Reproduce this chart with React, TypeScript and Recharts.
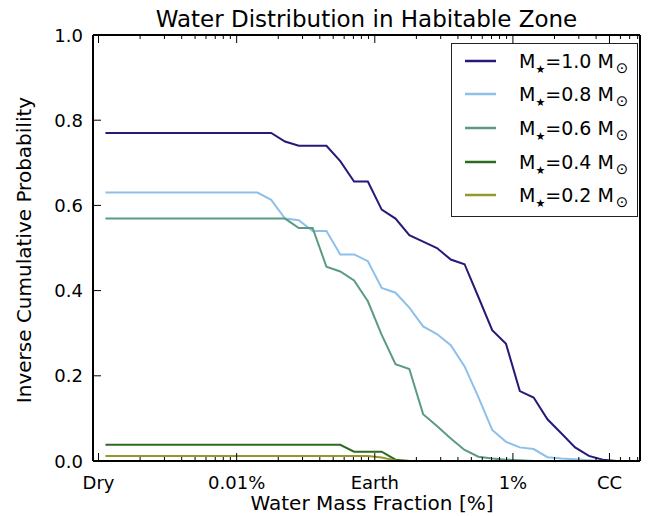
import { LineChart, Line, XAxis, YAxis, Legend, Label } from 'recharts';

// x positions are log10 of the water mass fraction in percent
const logWmf = [
  -2.95, -2.85, -2.75, -2.65, -2.55, -2.45, -2.35, -2.25, -2.15, -2.05,
  -1.95, -1.85, -1.75, -1.65, -1.55, -1.45, -1.35, -1.25, -1.15, -1.05,
  -0.95, -0.85, -0.75, -0.65, -0.55, -0.45, -0.35, -0.25, -0.15, -0.05,
  0.05, 0.15, 0.25, 0.35, 0.45, 0.55, 0.65, 0.75, 0.85, 0.95,
];

const m10 = [
  0.77, 0.77, 0.77, 0.77, 0.77, 0.77, 0.77, 0.77, 0.77, 0.77,
  0.77, 0.77, 0.77, 0.75, 0.74, 0.74, 0.74, 0.704, 0.656, 0.656,
  0.59, 0.569, 0.53, 0.515, 0.5, 0.473, 0.462, 0.385, 0.307, 0.275,
  0.164, 0.149, 0.098, 0.065, 0.032, 0.012, 0.003, 0, 0, 0,
];
const m08 = [
  0.63, 0.63, 0.63, 0.63, 0.63, 0.63, 0.63, 0.63, 0.63, 0.63,
  0.63, 0.63, 0.613, 0.569, 0.565, 0.54, 0.54, 0.485, 0.485, 0.469,
  0.406, 0.395, 0.36, 0.316, 0.298, 0.272, 0.222, 0.15, 0.073, 0.045,
  0.032, 0.028, 0.009, 0.006, 0.004, 0.002, 0, 0, 0, 0,
];
const m06 = [
  0.569, 0.569, 0.569, 0.569, 0.569, 0.569, 0.569, 0.569, 0.569, 0.569,
  0.569, 0.569, 0.569, 0.569, 0.547, 0.547, 0.456, 0.445, 0.424, 0.375,
  0.296, 0.227, 0.216, 0.11, 0.082, 0.053, 0.026, 0.01, 0.006, 0.003,
  0.002, 0, 0, 0, 0, 0, 0, 0, 0, 0,
];
const m04 = [
  0.038, 0.038, 0.038, 0.038, 0.038, 0.038, 0.038, 0.038, 0.038, 0.038,
  0.038, 0.038, 0.038, 0.038, 0.038, 0.038, 0.038, 0.038, 0.022, 0.022,
  0.022, 0.003, 0, 0, 0, 0, 0, 0, 0, 0,
  0, 0, 0, 0, 0, 0, 0, 0, 0, 0,
];
const m02 = [
  0.012, 0.012, 0.012, 0.012, 0.012, 0.012, 0.012, 0.012, 0.012, 0.012,
  0.012, 0.012, 0.012, 0.012, 0.012, 0.012, 0.012, 0.012, 0.012, 0.012,
  0.008, 0.001, 0, 0, 0, 0, 0, 0, 0, 0,
  0, 0, 0, 0, 0, 0, 0, 0, 0, 0,
];

const starMasses = ['1.0', '0.8', '0.6', '0.4', '0.2'];
const seriesKeys = ['m10', 'm08', 'm06', 'm04', 'm02'];
const seriesColors = ['#241a78', '#8ec0ea', '#5c9b80', '#2e6a22', '#939a2c'];

const xMajorTicks = [-3, -2, -1, 0, 0.699];
const xMajorLabels = ['Dry', '0.01%', 'Earth', '1%', 'CC'];
const yTicks = [0, 0.2, 0.4, 0.6, 0.8, 1.0];
const yTickLabels = ['0.0', '0.2', '0.4', '0.6', '0.8', '1.0'];

const X_DOMAIN: [number, number] = [-3.04, 0.92];
const FONT = 'DejaVu Sans';

// log minor ticks (2..9 in each decade), skipping ones that sit on a major tick
const xMinorTicks: number[] = [];
[-3, -2, -1, 0].forEach((d) => {
  for (let k = 2; k <= 9; k++) {
    const v = d + Math.log10(k);
    if (v > X_DOMAIN[1]) continue;
    if (xMajorTicks.some((t) => Math.abs(t - v) < 0.002)) continue;
    xMinorTicks.push(v);
  }
});
const xAllTicks = [...xMajorTicks, ...xMinorTicks].sort((a, b) => a - b);

const data = logWmf.map((x, i) => ({
  x,
  m10: m10[i],
  m08: m08[i],
  m06: m06[i],
  m04: m04[i],
  m02: m02[i],
}));

const majorIndex = (v: number) => xMajorTicks.findIndex((t) => Math.abs(t - v) < 1e-6);

function BottomTick({ x, y, payload }: any) {
  const i = majorIndex(payload.value);
  const len = i >= 0 ? 8 : 4;
  return (
    <g>
      <line x1={x} x2={x} y1={y} y2={y - len} stroke="#000" strokeWidth={1} />
      {i >= 0 && (
        <text x={x} y={y + 28} textAnchor="middle" fontSize={18} fontFamily={FONT} fill="#000">
          {xMajorLabels[i]}
        </text>
      )}
    </g>
  );
}

function TopTick({ x, y, payload }: any) {
  const len = majorIndex(payload.value) >= 0 ? 8 : 4;
  return <line x1={x} x2={x} y1={y} y2={y + len} stroke="#000" strokeWidth={1} />;
}

function LeftTick({ x, y, payload, index }: any) {
  return (
    <g>
      <line x1={x} x2={x + 8} y1={y} y2={y} stroke="#000" strokeWidth={1} />
      <text x={x - 10} y={y} textAnchor="end" dominantBaseline="central" fontSize={18} fontFamily={FONT} fill="#000">
        {yTickLabels[index] ?? payload.value}
      </text>
    </g>
  );
}

function RightTick({ x, y }: any) {
  return <line x1={x} x2={x - 8} y1={y} y2={y} stroke="#000" strokeWidth={1} />;
}

function LegendBox() {
  return (
    <div
      style={{
        boxSizing: 'border-box',
        width: 187,
        height: 174,
        border: '1px solid #222',
        background: '#fff',
        fontFamily: FONT,
        color: '#000',
      }}
    >
      {starMasses.map((m, i) => (
        <div key={m} style={{ height: 33.6, display: 'flex', alignItems: 'center' }}>
          <svg width={31} height={4} style={{ marginLeft: 13 }}>
            <line x1={0} x2={31} y1={2} y2={2} stroke={seriesColors[i]} strokeWidth={2.5} />
          </svg>
          <span style={{ marginLeft: 23, fontSize: 19, whiteSpace: 'nowrap' }}>
            M<span style={{ fontSize: 11, position: 'relative', top: 5 }}>★</span>={m} M
            <span style={{ fontSize: 15, position: 'relative', top: 5, marginLeft: 2 }}>⊙</span>
          </span>
        </div>
      ))}
    </div>
  );
}

export default function App() {
  return (
    <div style={{ position: 'absolute', left: 0, top: 0, width: 665, height: 516, background: '#fff' }}>
      <LineChart
        width={665}
        height={516}
        data={data}
        margin={{ top: 34, right: 24, bottom: 0, left: 0 }}
        style={{ fontFamily: FONT }}
      >
        <XAxis
          xAxisId="bottom"
          dataKey="x"
          type="number"
          domain={X_DOMAIN}
          allowDataOverflow
          ticks={xAllTicks}
          interval={0}
          height={55}
          tickSize={0}
          tickMargin={0}
          tickLine={false}
          axisLine={{ stroke: '#000', strokeWidth: 2 }}
          tick={(p: any) => <BottomTick {...p} />}
        >
          <Label
            content={() => (
              <text x={372} y={510} textAnchor="middle" fontSize={20} fontFamily={FONT} fill="#000">
                Water Mass Fraction [%]
              </text>
            )}
          />
        </XAxis>
        <XAxis
          xAxisId="top"
          orientation="top"
          dataKey="x"
          type="number"
          domain={X_DOMAIN}
          allowDataOverflow
          ticks={xAllTicks}
          interval={0}
          height={1}
          tickSize={0}
          tickMargin={0}
          tickLine={false}
          axisLine={{ stroke: '#000', strokeWidth: 2 }}
          tick={(p: any) => <TopTick {...p} />}
        >
          <Label
            content={() => (
              <text x={366.5} y={27} textAnchor="middle" fontSize={23} fontFamily={FONT} fill="#000">
                Water Distribution in Habitable Zone
              </text>
            )}
          />
        </XAxis>
        <YAxis
          yAxisId="left"
          type="number"
          domain={[0, 1]}
          ticks={yTicks}
          interval={0}
          width={93}
          tickSize={0}
          tickMargin={0}
          tickLine={false}
          axisLine={{ stroke: '#000', strokeWidth: 2 }}
          tick={(p: any) => <LeftTick {...p} />}
        >
          <Label
            content={() => (
              <text
                x={24}
                y={250}
                transform="rotate(-90, 24, 250)"
                textAnchor="middle"
                dominantBaseline="central"
                fontSize={20}
                fontFamily={FONT}
                fill="#000"
              >
                Inverse Cumulative Probability
              </text>
            )}
          />
        </YAxis>
        <YAxis
          yAxisId="right"
          orientation="right"
          type="number"
          domain={[0, 1]}
          ticks={yTicks}
          interval={0}
          width={1}
          tickSize={0}
          tickMargin={0}
          tickLine={false}
          axisLine={{ stroke: '#000', strokeWidth: 2 }}
          tick={(p: any) => <RightTick {...p} />}
        />
        {seriesKeys.map((k, i) => (
          <Line
            key={k}
            xAxisId="bottom"
            yAxisId="left"
            dataKey={k}
            type="linear"
            stroke={seriesColors[i]}
            strokeWidth={2}
            dot={false}
            activeDot={false}
            isAnimationActive={false}
          />
        ))}
        <Legend
          layout="vertical"
          align="center"
          verticalAlign="middle"
          wrapperStyle={{ left: 451, top: 43, width: 187, height: 174 }}
          content={() => <LegendBox />}
        />
      </LineChart>
    </div>
  );
}
